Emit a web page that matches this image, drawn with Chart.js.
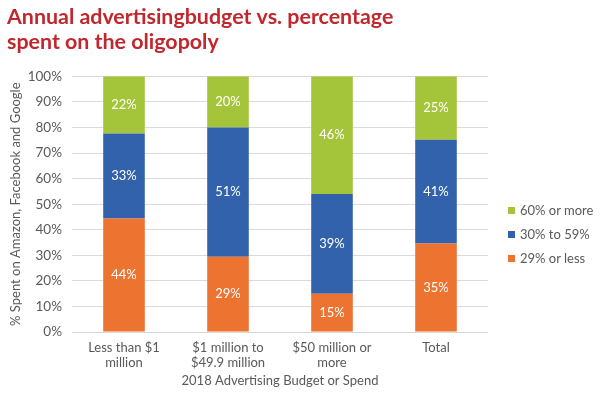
<!DOCTYPE html>
<html>
<head>
<meta charset="utf-8">
<script src="https://cdn.jsdelivr.net/npm/chart.js@4"></script>
<style>
  html, body { margin: 0; padding: 0; background: #fff; }
  #wrap { position: relative; width: 600px; height: 397px; }
  #legend { position: absolute; left: 508px; top: 202px; font: 13px Lato, 'Open Sans', sans-serif; color: #595959; }
  #legend div { height: 24px; line-height: 16px; white-space: nowrap; }
  #legend span { display: inline-block; width: 7px; height: 7px; margin-right: 5px; vertical-align: 1px; }
</style>
</head>
<body>
<div id="wrap">
  <canvas id="myChart" width="600" height="397"></canvas>
  <div id="legend"></div>
</div>
<script>
// Daten
const categories = [["Less than $1", "million"], ["$1 million to", "$49.9 million"], ["$50 million or", "more"], ["Total"]];
const lessThan29 = [44.4, 29.4, 15, 34.6];
const from30to59 = [33.2, 50.6, 39, 40.6];
const over60 = [22.4, 20, 46, 24.8];
const yTicks = [0, 10, 20, 30, 40, 50, 60, 70, 80, 90, 100];

const grey = '#595959';
const font = "Lato, 'Open Sans', sans-serif";

// Werte in die Balken schreiben
const barLabels = {
  id: 'barLabels',
  afterDatasetsDraw(chart) {
    const c = chart.ctx;
    c.save();
    c.fillStyle = '#ffffff';
    c.font = '13px ' + font;
    c.textAlign = 'center';
    c.textBaseline = 'middle';
    chart.data.datasets.forEach((ds, i) => {
      chart.getDatasetMeta(i).data.forEach((bar, j) => {
        c.fillText(Math.round(ds.data[j]) + '%', bar.x, (bar.y + bar.base) / 2);
      });
    });
    c.restore();
  }
};

const ctx = document.getElementById("myChart").getContext("2d");
const myChart = new Chart(ctx, {
  type: 'bar',
  data: {
    labels: categories,
    datasets: [
      { label: '29% or less', data: lessThan29, backgroundColor: '#EC7330' },
      { label: '30% to 59%', data: from30to59, backgroundColor: '#3262AB' },
      { label: '60% or more', data: over60, backgroundColor: '#A4C539' }
    ]
  },
  options: {
    responsive: false,
    animation: false,
    layout: { padding: { left: 7, right: 112, top: 4, bottom: 0 } },
    datasets: { bar: { categoryPercentage: 1, barPercentage: 0.4 } },
    plugins: {
      title: {
        display: true,
        align: 'start',
        text: ['Annual advertisingbudget vs. percentage', 'spent on the oligopoly'],
        color: '#C1272D',
        font: { family: font, size: 21.4, weight: 'bold', lineHeight: 1.2 },
        padding: { top: 0, bottom: 21 }
      },
      legend: { display: false },
      tooltip: { enabled: false }
    },
    scales: {
      x: {
        stacked: true,
        afterFit: axis => { axis.height = 65; },
        grid: { display: false, drawTicks: false },
        border: { display: false },
        ticks: { color: grey, font: { family: font, size: 13, lineHeight: 1.15 }, maxRotation: 0, padding: 8 },
        title: { display: true, text: '2018 Advertising Budget or Spend', color: grey, font: { family: font, size: 13 }, padding: { top: 0, bottom: 8 } }
      },
      y: {
        stacked: true,
        min: 0,
        max: 100,
        afterFit: axis => { axis.width = 65; },
        afterBuildTicks: axis => { axis.ticks = yTicks.map(v => ({ value: v })); },
        grid: { color: '#d9d9d9', drawTicks: false },
        border: { display: false },
        ticks: { color: grey, font: { family: font, size: 13.5 }, padding: 10, callback: v => v + '%' },
        title: { display: true, text: '% Spent on Amazon, Facebook and Google', color: grey, font: { family: font, size: 13 }, padding: 1 }
      }
    }
  },
  plugins: [barLabels]
});

// Legende (umgekehrte Reihenfolge wie im Original)
const legend = document.getElementById("legend");
myChart.data.datasets.slice().reverse().forEach(ds => {
  const row = document.createElement("div");
  const box = document.createElement("span");
  box.style.background = ds.backgroundColor;
  row.appendChild(box);
  row.appendChild(document.createTextNode(ds.label));
  legend.appendChild(row);
});
</script>
</body>
</html>
